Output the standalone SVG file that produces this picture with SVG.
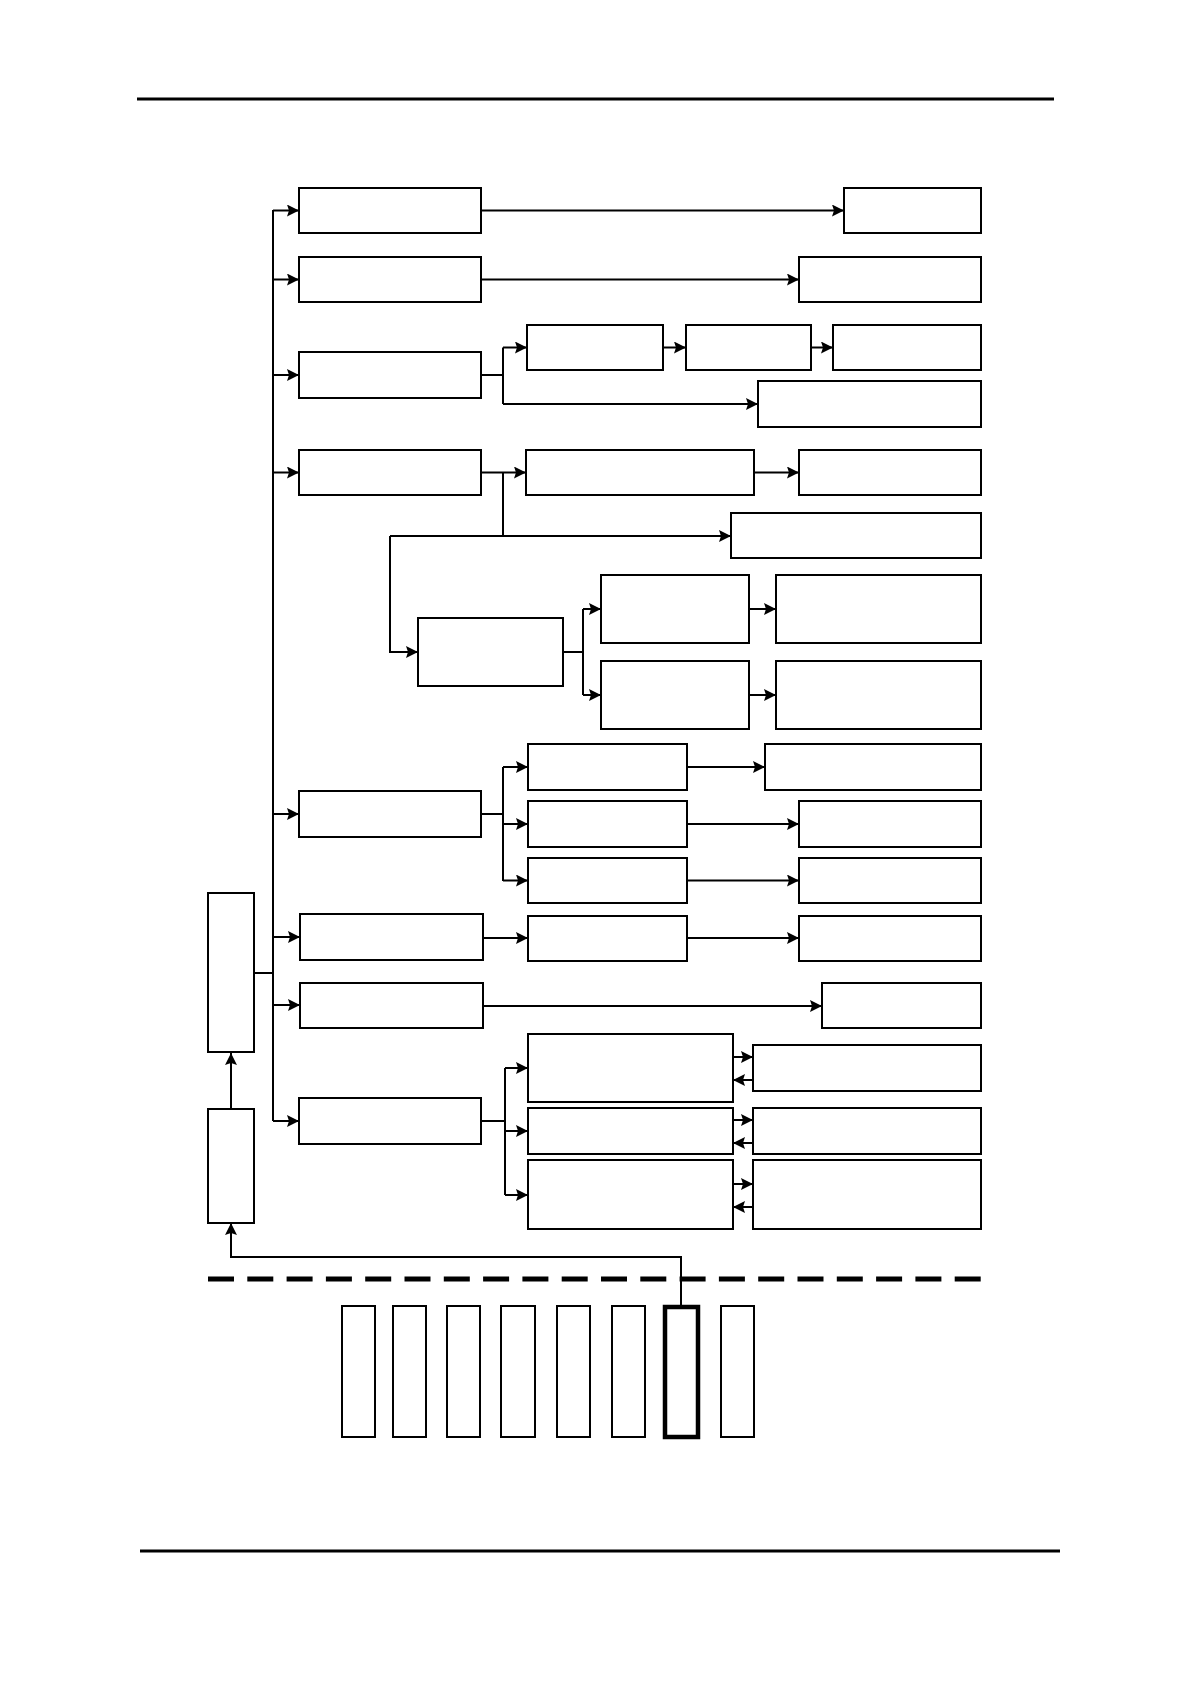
<svg xmlns="http://www.w3.org/2000/svg" width="1191" height="1684" viewBox="0 0 1191 1684">
<style>
.n{fill:#fff;stroke:#000;stroke-width:2}
.t{fill:#fff;stroke:#000;stroke-width:4.5}
.c{fill:none;stroke:#000;stroke-width:2}
.a{fill:none;stroke:#000;stroke-width:2;marker-end:url(#ah)}
.rule{stroke:#000;stroke-width:3}
</style>
<defs>
<marker id="ah" markerUnits="userSpaceOnUse" markerWidth="13" markerHeight="13" refX="12" refY="6" orient="auto">
<path d="M0,0 L12,6 L0,12 L2,6 z" fill="#000"/>
</marker>
</defs>
<rect width="1191" height="1684" fill="#fff"/>
<line class="rule" x1="137" y1="99" x2="1054" y2="99"/>
<line class="rule" x1="140" y1="1551" x2="1060" y2="1551"/>
<line x1="208" y1="1279" x2="981" y2="1279" stroke="#000" stroke-width="5" stroke-dasharray="26 13.3"/>

<g id="connectors">
<path class="c" d="M254,973 H273 M273,210 V1121"/>
<path class="a" d="M273,210.5 H299"/>
<path class="a" d="M273,279.5 H299"/>
<path class="a" d="M273,375 H299"/>
<path class="a" d="M273,472.5 H299"/>
<path class="a" d="M273,814 H299"/>
<path class="a" d="M273,937 H300"/>
<path class="a" d="M273,1005 H300"/>
<path class="a" d="M273,1121 H299"/>
<path class="a" d="M231,1109 V1053"/>
<path class="a" d="M681,1306 V1257 H231 V1223"/>
<path class="a" d="M481,210.5 H844"/>
<path class="a" d="M481,279.5 H799"/>
<path class="c" d="M481,375 H503 M503,347.5 V404"/>
<path class="a" d="M503,347.5 H527"/>
<path class="a" d="M503,404 H758"/>
<path class="a" d="M663,347.5 H686"/>
<path class="a" d="M811,347.5 H833"/>
<path class="a" d="M481,472.5 H526"/>
<path class="c" d="M503,472.5 V536"/>
<path class="a" d="M390,536 H731"/>
<path class="a" d="M390,536 V652 H418"/>
<path class="a" d="M754,472.5 H799"/>
<path class="c" d="M563,652 H583 M583,609 V695"/>
<path class="a" d="M583,609 H601"/>
<path class="a" d="M583,695 H601"/>
<path class="a" d="M749,609 H776"/>
<path class="a" d="M749,695 H776"/>
<path class="c" d="M481,814 H503 M503,767 V881"/>
<path class="a" d="M503,767 H528"/>
<path class="a" d="M503,824 H528"/>
<path class="a" d="M503,880.5 H528"/>
<path class="a" d="M687,767 H765"/>
<path class="a" d="M687,824 H799"/>
<path class="a" d="M687,880.5 H799"/>
<path class="a" d="M483,938 H528"/>
<path class="a" d="M687,938 H799"/>
<path class="a" d="M483,1006 H822"/>
<path class="c" d="M481,1121 H505 M505,1068 V1195"/>
<path class="a" d="M505,1068 H528"/>
<path class="a" d="M505,1131 H528"/>
<path class="a" d="M505,1195 H528"/>
<path class="a" d="M733,1057 H753"/>
<path class="a" d="M753,1080 H733"/>
<path class="a" d="M733,1120 H753"/>
<path class="a" d="M753,1143 H733"/>
<path class="a" d="M733,1184 H753"/>
<path class="a" d="M753,1207 H733"/>
</g>

<g id="T"><rect class="n" x="208" y="893" width="46" height="159"/></g>
<g id="U"><rect class="n" x="208" y="1109" width="46" height="114"/></g>

<g id="L1"><rect class="n" x="299" y="188" width="182" height="45"/></g>
<g id="R1"><rect class="n" x="844" y="188" width="137" height="45"/></g>
<g id="L2"><rect class="n" x="299" y="257" width="182" height="45"/></g>
<g id="R2"><rect class="n" x="799" y="257" width="182" height="45"/></g>
<g id="L3"><rect class="n" x="299" y="352" width="182" height="46"/></g>
<g id="A"><rect class="n" x="527" y="325" width="136" height="45"/></g>
<g id="B"><rect class="n" x="686" y="325" width="125" height="45"/></g>
<g id="C"><rect class="n" x="833" y="325" width="148" height="45"/></g>
<g id="D"><rect class="n" x="758" y="381" width="223" height="46"/></g>
<g id="L4"><rect class="n" x="299" y="450" width="182" height="45"/></g>
<g id="E"><rect class="n" x="526" y="450" width="228" height="45"/></g>
<g id="F"><rect class="n" x="799" y="450" width="182" height="45"/></g>
<g id="G"><rect class="n" x="731" y="513" width="250" height="45"/></g>
<g id="H"><rect class="n" x="418" y="618" width="145" height="68"/></g>
<g id="I"><rect class="n" x="601" y="575" width="148" height="68"/></g>
<g id="J"><rect class="n" x="601" y="661" width="148" height="68"/></g>
<g id="K"><rect class="n" x="776" y="575" width="205" height="68"/></g>
<g id="Lb"><rect class="n" x="776" y="661" width="205" height="68"/></g>
<g id="L5"><rect class="n" x="299" y="791" width="182" height="46"/></g>
<g id="M1"><rect class="n" x="528" y="744" width="159" height="46"/></g>
<g id="M2"><rect class="n" x="528" y="801" width="159" height="46"/></g>
<g id="M3"><rect class="n" x="528" y="858" width="159" height="45"/></g>
<g id="N1"><rect class="n" x="765" y="744" width="216" height="46"/></g>
<g id="N2"><rect class="n" x="799" y="801" width="182" height="46"/></g>
<g id="N3"><rect class="n" x="799" y="858" width="182" height="45"/></g>
<g id="L6"><rect class="n" x="300" y="914" width="183" height="46"/></g>
<g id="M4"><rect class="n" x="528" y="916" width="159" height="45"/></g>
<g id="N4"><rect class="n" x="799" y="916" width="182" height="45"/></g>
<g id="L7"><rect class="n" x="300" y="983" width="183" height="45"/></g>
<g id="N5"><rect class="n" x="822" y="983" width="159" height="45"/></g>
<g id="L8"><rect class="n" x="299" y="1098" width="182" height="46"/></g>
<g id="P1"><rect class="n" x="528" y="1034" width="205" height="68"/></g>
<g id="P2"><rect class="n" x="528" y="1108" width="205" height="46"/></g>
<g id="P3"><rect class="n" x="528" y="1160" width="205" height="69"/></g>
<g id="Q1"><rect class="n" x="753" y="1045" width="228" height="46"/></g>
<g id="Q2"><rect class="n" x="753" y="1108" width="228" height="46"/></g>
<g id="Q3"><rect class="n" x="753" y="1160" width="228" height="69"/></g>

<g id="S1"><rect class="n" x="342" y="1306" width="33" height="131"/></g>
<g id="S2"><rect class="n" x="393" y="1306" width="33" height="131"/></g>
<g id="S3"><rect class="n" x="447" y="1306" width="33" height="131"/></g>
<g id="S4"><rect class="n" x="501" y="1306" width="34" height="131"/></g>
<g id="S5"><rect class="n" x="557" y="1306" width="33" height="131"/></g>
<g id="S6"><rect class="n" x="612" y="1306" width="33" height="131"/></g>
<g id="S7"><rect class="t" x="665" y="1307" width="33" height="130"/></g>
<g id="S8"><rect class="n" x="721" y="1306" width="33" height="131"/></g>
</svg>
